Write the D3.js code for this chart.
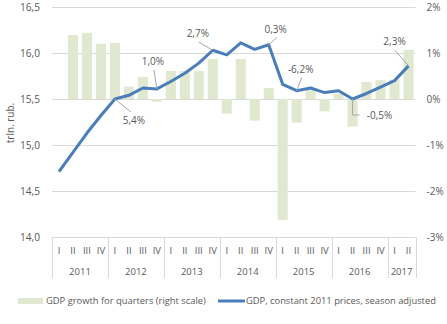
<!DOCTYPE html>
<html>
<head>
<meta charset="utf-8">
<script src="https://cdn.jsdelivr.net/npm/d3@7"></script>
<style>
  body { margin: 0; background: #fff; }
  text { font-family: "Open Sans", sans-serif; fill: #595959; }
</style>
</head>
<body>
<div id="chart"></div>
<script>
'use strict';

// quarters 2011 Q1 .. 2017 Q2
const years = ['2011', '2012', '2013', '2014', '2015', '2016', '2017'];
const quarterNames = ['I', 'II', 'III', 'IV'];
const quartersPerYear = [4, 4, 4, 4, 4, 4, 2];

// GDP, constant 2011 prices, season adjusted (trln. rub.)
const gdp = [14.71, 14.92, 15.13, 15.32, 15.50, 15.54, 15.62, 15.61,
             15.69, 15.78, 15.89, 16.03, 15.98, 16.11, 16.04, 16.09,
             15.66, 15.59, 15.62, 15.57, 15.59, 15.50, 15.56, 15.63,
             15.70, 15.86];

// quarterly growth, % (right scale); no value for the first quarter
const growth = [null, 1.39, 1.44, 1.20, 1.22, 0.27, 0.48, -0.06,
                0.61, 0.61, 0.61, 0.87, -0.32, 0.87, -0.47, 0.24,
                -2.63, -0.51, 0.20, -0.27, 0.11, -0.60, 0.37, 0.41,
                0.41, 1.07];

// annual growth callouts: quarter index and text
const notes = [
  {i: 4,  text: '5,4%'},
  {i: 7,  text: '1,0%'},
  {i: 11, text: '2,7%'},
  {i: 15, text: '0,3%'},
  {i: 17, text: '-6,2%'},
  {i: 21, text: '-0,5%'},
  {i: 25, text: '2,3%'}
];

const legendLabels = ['GDP growth for quarters (right scale)',
                      'GDP, constant 2011 prices, season adjusted'];

let cats = [];
years.forEach(function(y, k){
  for(let q = 0; q < quartersPerYear[k]; q++){
    cats.push({year: y, q: quarterNames[q]});
  }
});
cats.forEach(function(d, i){ d.i = i; d.gdp = gdp[i]; d.growth = growth[i]; });

const width = 447, height = 324;
const plot = {left: 52, right: 415.5, top: 7, bottom: 237};

const svg = d3.select('#chart').append('svg')
  .attr('width', width).attr('height', height);

// shrink a text node so it spans about w pixels
function fitWidth(sel, w){
  sel.each(function(){
    const len = this.getComputedTextLength();
    const fs = parseFloat(d3.select(this).attr('font-size'));
    if(len > 0){ d3.select(this).attr('font-size', (fs * w / len).toFixed(2)); }
  });
}

const x = d3.scaleBand()
  .domain(cats.map(d => d.i))
  .range([plot.left, plot.right])
  .paddingInner(0.28).paddingOuter(0.14);
const cx = i => x(i) + x.bandwidth() / 2;

const yL = d3.scaleLinear().domain([14, 16.5]).range([plot.bottom, plot.top]);
const yR = d3.scaleLinear().domain([-3, 2]).range([plot.bottom, plot.top]);

const ru = d3.formatLocale({decimal: ',', thousands: ' ', grouping: [3], currency: ['', '']});
const fmtL = ru.format('.1f');

// gridlines
svg.append('g')
  .selectAll('line')
  .data(yL.ticks(5).filter(v => v > 14))
  .join('line')
    .attr('x1', plot.left).attr('x2', plot.right)
    .attr('y1', d => Math.round(yL(d)) + 0.5)
    .attr('y2', d => Math.round(yL(d)) + 0.5)
    .attr('stroke', '#d9d9d9');

// left axis
const axL = svg.append('g')
  .attr('transform', 'translate(' + (plot.left - 9) + ',0)')
  .call(d3.axisLeft(yL).tickValues(d3.range(14, 16.51, 0.5)).tickFormat(fmtL).tickSize(0));
axL.select('.domain').remove();
axL.selectAll('text').attr('font-size', 10.5).attr('dx', 0).attr('dy', '0.32em');
fitWidth(axL.selectAll('text'), 20);

// right axis
const axR = svg.append('g')
  .attr('transform', 'translate(' + (plot.right + 8) + ',0)')
  .call(d3.axisRight(yR).ticks(5).tickFormat(d => d + '%').tickSize(0));
axR.select('.domain').remove();
axR.selectAll('text').attr('font-size', 10).attr('dx', 0).attr('dy', '0.32em');

svg.append('text')
  .attr('transform', 'translate(14,123) rotate(-90)')
  .attr('text-anchor', 'middle')
  .attr('font-size', 10)
  .text('trln. rub.');

// growth bars
svg.append('g')
  .selectAll('rect')
  .data(cats.filter(d => d.growth !== null))
  .join('rect')
    .attr('x', d => x(d.i))
    .attr('width', x.bandwidth())
    .attr('y', d => yR(Math.max(0, d.growth)))
    .attr('height', d => Math.abs(yR(d.growth) - yR(0)))
    .attr('fill', '#e0e9cf');

// category axis: quarter and year rows with separators
const axis = svg.append('g');
axis.append('line')
  .attr('x1', plot.left).attr('x2', plot.right)
  .attr('y1', plot.bottom + 0.5).attr('y2', plot.bottom + 0.5)
  .attr('stroke', '#d9d9d9');
axis.selectAll('.q')
  .data(cats)
  .join('text')
    .attr('class', 'q')
    .attr('x', d => cx(d.i))
    .attr('y', 254)
    .attr('text-anchor', 'middle')
    .attr('font-size', 9.5)
    .text(d => d.q);

const step = x.step();
let start = 0;
const yearSpans = years.map(function(y, k){
  const s = {year: y, from: start, to: start + quartersPerYear[k]};
  start += quartersPerYear[k];
  return s;
});
const edge = i => plot.left + i * step;
axis.selectAll('.sep')
  .data([0].concat(yearSpans.map(s => s.to)))
  .join('line')
    .attr('class', 'sep')
    .attr('x1', d => Math.round(edge(d)) + 0.5)
    .attr('x2', d => Math.round(edge(d)) + 0.5)
    .attr('y1', plot.bottom).attr('y2', 278)
    .attr('stroke', '#d9d9d9');
axis.selectAll('.yr')
  .data(yearSpans)
  .join('text')
    .attr('class', 'yr')
    .attr('x', d => (edge(d.from) + edge(d.to)) / 2)
    .attr('y', 275)
    .attr('text-anchor', 'middle')
    .attr('font-size', 9.5)
    .text(d => d.year);

// GDP line
const line = d3.line()
  .x(d => cx(d.i))
  .y(d => yL(d.gdp));
svg.append('path')
  .datum(cats)
  .attr('d', line)
  .attr('fill', 'none')
  .attr('stroke', '#4a7ebb')
  .attr('stroke-width', 3)
  .attr('stroke-linejoin', 'round');

// callouts: leader end (dx, dy) and label centre (tx, ty) relative to the point
const leaders = {
  4:  {dx: 16,  dy: 13,  tx: 19,  ty: 21, elbow: false},
  7:  {dx: -3,  dy: -19, tx: -4,  ty: -27, elbow: false},
  11: {dx: -14, dy: -8,  tx: -15, ty: -17, elbow: false},
  15: {dx: 8,   dy: -7,  tx: 7,   ty: -15, elbow: false},
  17: {dx: 5,   dy: -13, tx: 4,   ty: -21, elbow: false},
  21: {dx: 0,   dy: 16,  tx: 27,  ty: 16,  elbow: true},
  25: {dx: -14, dy: -16, tx: -14, ty: -24, elbow: false}
};
const ann = svg.append('g');
notes.forEach(function(n){
  const px = cx(n.i), py = yL(gdp[n.i]);
  const l = leaders[n.i];
  let pts = [[px, py], [px + l.dx, py + l.dy]];
  if(l.elbow){ pts.push([px + l.dx + 7, py + l.dy]); }
  ann.append('path')
    .attr('d', d3.line()(pts))
    .attr('fill', 'none')
    .attr('stroke', '#a6a6a6')
    .attr('stroke-width', 1);
  ann.append('text')
    .attr('x', px + l.tx)
    .attr('y', py + l.ty)
    .attr('dy', '0.35em')
    .attr('text-anchor', 'middle')
    .attr('font-size', 10)
    .attr('fill', '#404040')
    .text(n.text);
});

// legend
const lg = svg.append('g').attr('transform', 'translate(0,301)');
lg.append('rect').attr('x', 18).attr('y', -3).attr('width', 25).attr('height', 6).attr('fill', '#e0e9cf');
lg.append('text').attr('x', 46).attr('dy', '0.35em').attr('font-size', 10)
  .text(legendLabels[0]).call(fitWidth, 160);
lg.append('line').attr('x1', 218).attr('x2', 245).attr('stroke', '#4a7ebb').attr('stroke-width', 3);
lg.append('text').attr('x', 246).attr('dy', '0.35em').attr('font-size', 10)
  .text(legendLabels[1]).call(fitWidth, 190);
</script>
</body>
</html>
